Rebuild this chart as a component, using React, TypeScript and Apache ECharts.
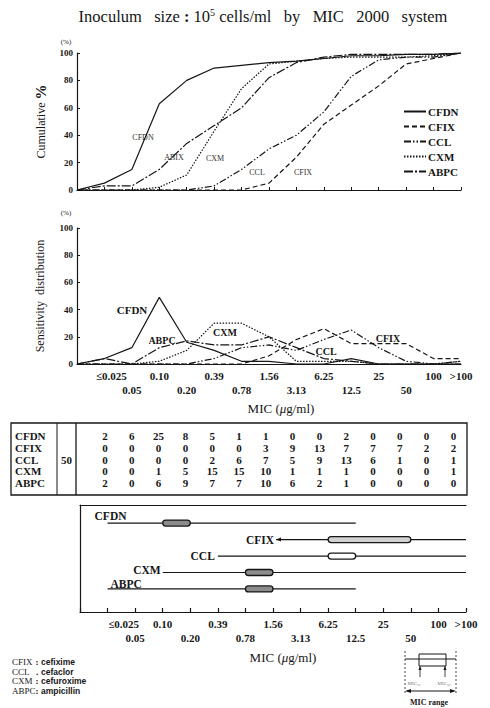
import React, { useEffect, useRef } from 'react';
import * as echarts from 'echarts';

// ---------- data ----------
const micLabels = ['≤0.025', '0.05', '0.10', '0.20', '0.39', '0.78', '1.56', '3.13', '6.25', '12.5', '25', '50', '100', '>100'];
const secondRowLabels = ['0.05', '0.20', '0.78', '3.13', '12.5', '50'];
const drugs = ['CFDN', 'CFIX', 'CCL', 'CXM', 'ABPC'];

// cumulative % (top panel)
const cumCFDN = [5, 15, 63, 80, 89, 91, 93, 94, 96, 98, 98, 99, 99, 100];
const cumCFIX = [0, 0, 0, 0, 0, 0, 5, 24, 48, 62, 76, 92, 96, 100];
const cumCCL = [0, 0, 0, 0, 3, 15, 30, 40, 57, 83, 95, 97, 97, 100];
const cumCXM = [0, 0, 2, 11, 43, 74, 92, 94, 96, 97, 97, 97, 98, 100];
const cumABPC = [3, 3, 15, 34, 47, 60, 82, 93, 97, 99, 99, 99, 99, 100];

// sensitivity distribution % (middle panel)
const distCFDN = [4, 12, 49, 16, 10, 2, 2, 0, 0, 4, 0, 0, 0, 0];
const distCFIX = [0, 0, 0, 0, 0, 0, 6, 18, 26, 15, 15, 15, 4, 4];
const distCCL = [0, 0, 0, 0, 4, 12, 14, 10, 18, 25, 12, 2, 0, 2];
const distCXM = [0, 0, 2, 10, 30, 30, 20, 2, 2, 2, 0, 0, 0, 2];
const distABPC = [4, 0, 12, 17, 14, 14, 20, 12, 4, 2, 0, 0, 0, 0];

// number of strains per MIC (table)
const countCFDN = [2, 6, 25, 8, 5, 1, 1, 0, 0, 2, 0, 0, 0, 0];
const countCFIX = [0, 0, 0, 0, 0, 0, 3, 9, 13, 7, 7, 7, 2, 2];
const countCCL = [0, 0, 0, 0, 2, 6, 7, 5, 9, 13, 6, 1, 0, 1];
const countCXM = [0, 0, 1, 5, 15, 15, 10, 1, 1, 1, 0, 0, 0, 1];
const countABPC = [2, 0, 6, 9, 7, 7, 10, 6, 2, 1, 0, 0, 0, 0];
const strainTotal = '50';

// MIC range (bottom panel)
const rangeMin = ['≤0.025', '1.56', '0.39', '0.10', '≤0.025'];
const rangeMax = ['12.5', '>100', '>100', '>100', '12.5'];
const boxLow = ['0.10', '6.25', '6.25', '0.78', '0.78'];
const boxHigh = ['0.20', '50', '12.5', '1.56', '1.56'];

// abbreviations
const abbrList = ['CFIX', 'CCL', 'CXM', 'ABPC'];
const abbrSep = [':', '.', ':', ':'];
const abbrNames = ['cefixime', 'cefaclor', 'cefuroxime', 'ampicillin'];

const cumData = [cumCFDN, cumCFIX, cumCCL, cumCXM, cumABPC];
const distData = [distCFDN, distCFIX, distCCL, distCXM, distABPC];
const countData = [countCFDN, countCFIX, countCCL, countCXM, countABPC];

// ---------- styles ----------
const SERIF = '"Liberation Serif", "DejaVu Serif", serif';
const SANS = '"Liberation Sans", "DejaVu Sans", sans-serif';
const INK = '#161616';
const dashTypes: any[] = ['solid', [5, 3], [7, 2, 1.5, 2, 1.5, 2], [1.5, 1.5], [9, 2, 2, 2]];
const boxFill = ['#8c8c8c', '#d2d2d2', '#ffffff', '#8c8c8c', '#8c8c8c'];
const labelAbove = [true, false, false, false, true];
const labelDx = [-13, 1, -3, -2, 3];
const labelDy = [-1, 0, 0, -2, 1];
const arrowLeft = [false, true, false, false, false];

const axisCats = ['', ...micLabels];

function buildOption(): any {
  const tickFmt = (firstStyle: string) => (v: string) => {
    if (!v) return '';
    if (v === micLabels[0]) return `{${firstStyle}|${v}}`;
    return secondRowLabels.includes(v) ? `\n{n|${v}}` : `{n|${v}}`;
  };
  const tickRich = {
    n: { fontFamily: SERIF, fontSize: 11, fontWeight: 'bold', color: INK, lineHeight: 14 },
    f1: { fontFamily: SERIF, fontSize: 11, fontWeight: 'bold', color: INK, lineHeight: 14, padding: [0, 0, 0, 14] },
    f2: { fontFamily: SERIF, fontSize: 11, fontWeight: 'bold', color: INK, lineHeight: 14, padding: [0, 0, 0, 32] },
  };
  const yLabel = { fontFamily: SERIF, fontSize: 9, fontWeight: 'bold', color: INK, margin: 4 };
  const axisLine = { show: true, onZero: false, lineStyle: { color: INK, width: 1.2 } };
  const micName = 'MIC ({i|μ}g/ml)';
  const micNameStyle = (padLeft: number) => ({
    fontFamily: SERIF, fontSize: 13, color: INK, padding: [0, 0, 0, padLeft],
    rich: { i: { fontFamily: SERIF, fontSize: 13, fontStyle: 'italic', color: INK } },
  });

  const lineSeries = (data: number[][], ax: number) =>
    drugs.map((d, k) => ({
      name: d,
      type: 'line',
      xAxisIndex: ax,
      yAxisIndex: ax,
      data: [0, ...data[k]],
      symbol: 'none',
      lineStyle: { color: INK, width: 1.2, type: dashTypes[k] },
      itemStyle: { color: INK },
    }));

  const rangeData = drugs.map((d, i) => [
    axisCats.indexOf(rangeMin[i]),
    axisCats.indexOf(rangeMax[i]),
    axisCats.indexOf(boxLow[i]),
    axisCats.indexOf(boxHigh[i]),
    i,
  ]);

  const graphics: any[] = [];
  // title
  graphics.push({
    type: 'text', x: 263, y: 16,
    style: {
      text: '{t|Inoculum   size }{b|:}{t| 10}{s|5}{t| cells/ml   by   MIC   2000   system}',
      align: 'center', verticalAlign: 'middle',
      rich: {
        t: { fontFamily: SERIF, fontSize: 16.5, fill: INK },
        b: { fontFamily: SERIF, fontSize: 16.5, fontWeight: 'bold', fill: INK },
        s: { fontFamily: SERIF, fontSize: 10, fill: INK, padding: [0, 0, 8, 0] },
      },
    },
  });
  // (%) marks
  graphics.push({ type: 'text', x: 66, y: 42, style: { text: '(%)', fontFamily: SERIF, fontSize: 7, fill: INK, align: 'center', verticalAlign: 'middle' } });
  graphics.push({ type: 'text', x: 66, y: 213, style: { text: '(%)', fontFamily: SERIF, fontSize: 7, fill: INK, align: 'center', verticalAlign: 'middle' } });

  // annotations top panel
  const topNotes: [string, number, number][] = [['CFDN', 143, 137], ['ABIX', 174, 157], ['CXM', 215, 158], ['CCL', 257, 172], ['CFIX', 303, 172]];
  topNotes.forEach(([t, x, y]) => graphics.push({ type: 'text', x, y, style: { text: t, fontFamily: SERIF, fontSize: 8, fill: '#333', align: 'center', verticalAlign: 'middle' } }));
  // annotations middle panel
  const midNotes: [string, number, number, number][] = [['CFDN', 132, 310, 11], ['ABPC', 162, 340, 10], ['CXM', 225, 332, 10], ['CCL', 326, 351, 10], ['CFIX', 388, 338, 10]];
  midNotes.forEach(([t, x, y, fs]) => graphics.push({ type: 'text', x, y, style: { text: t, fontFamily: SERIF, fontSize: fs, fontWeight: 'bold', fill: INK, align: 'center', verticalAlign: 'middle' } }));

  // table
  const tL = 11, tT = 423, tR = 467, tB = 495;
  graphics.push({ type: 'rect', shape: { x: tL, y: tT, width: tR - tL, height: tB - tT }, style: { fill: 'none', stroke: INK, lineWidth: 1.3 } });
  graphics.push({ type: 'line', shape: { x1: 57, y1: tT, x2: 57, y2: tB }, style: { stroke: INK, lineWidth: 1 } });
  graphics.push({ type: 'line', shape: { x1: 76, y1: tT, x2: 76, y2: tB }, style: { stroke: INK, lineWidth: 1.3 } });
  const rowY = (r: number) => 436 + r * 11.8;
  drugs.forEach((d, r) => {
    graphics.push({ type: 'text', x: 15, y: rowY(r), style: { text: d, fontFamily: SERIF, fontSize: 11, fontWeight: 'bold', fill: INK, align: 'left', verticalAlign: 'middle' } });
    countData[r].forEach((c, j) => {
      graphics.push({ type: 'text', x: 105 + j * 26.8, y: rowY(r), style: { text: String(c), fontFamily: SERIF, fontSize: 11, fontWeight: 'bold', fill: INK, align: 'center', verticalAlign: 'middle' } });
    });
  });
  graphics.push({ type: 'text', x: 66.5, y: rowY(2), style: { text: strainTotal, fontFamily: SERIF, fontSize: 11, fontWeight: 'bold', fill: INK, align: 'center', verticalAlign: 'middle' } });

  // abbreviations legend
  abbrList.forEach((a, i) => {
    const y = 662 + i * 9.6;
    graphics.push({ type: 'text', x: 12, y, style: { text: a, fontFamily: SERIF, fontSize: 9, fill: INK, align: 'left', verticalAlign: 'middle' } });
    graphics.push({ type: 'text', x: 37, y, style: { text: abbrSep[i], fontFamily: SERIF, fontSize: 9, fontWeight: 'bold', fill: INK, align: 'center', verticalAlign: 'middle' } });
    graphics.push({ type: 'text', x: 41, y, style: { text: abbrNames[i], fontFamily: SANS, fontSize: 8.5, fontWeight: 'bold', fill: INK, align: 'left', verticalAlign: 'middle' } });
  });

  // MIC range key
  const kL = 405, kR = 456;
  graphics.push({ type: 'line', shape: { x1: kL, y1: 651, x2: kL, y2: 695 }, style: { stroke: INK, lineWidth: 0.8, lineDash: [2, 2] } });
  graphics.push({ type: 'line', shape: { x1: kR, y1: 651, x2: kR, y2: 695 }, style: { stroke: INK, lineWidth: 0.8, lineDash: [2, 2] } });
  graphics.push({ type: 'line', shape: { x1: kL, y1: 659, x2: kR, y2: 659 }, style: { stroke: INK, lineWidth: 1 } });
  graphics.push({ type: 'rect', shape: { x: 419, y: 654, width: 27, height: 12 }, style: { fill: 'none', stroke: INK, lineWidth: 1 } });
  [420, 445].forEach((x) => {
    graphics.push({ type: 'line', shape: { x1: x, y1: 666, x2: x, y2: 677 }, style: { stroke: INK, lineWidth: 0.8 } });
    graphics.push({ type: 'polygon', shape: { points: [[x, 666], [x - 1.5, 670], [x + 1.5, 670]] }, style: { fill: INK } });
  });
  graphics.push({ type: 'text', x: 414, y: 683, style: { text: 'MIC₅₀', fontFamily: SERIF, fontSize: 5, fill: '#777', align: 'center', verticalAlign: 'middle' } });
  graphics.push({ type: 'text', x: 444, y: 683, style: { text: 'MIC₉₀', fontFamily: SERIF, fontSize: 5, fill: '#777', align: 'center', verticalAlign: 'middle' } });
  graphics.push({ type: 'line', shape: { x1: kL + 2, y1: 691, x2: kR - 2, y2: 691 }, style: { stroke: INK, lineWidth: 1.2 } });
  graphics.push({ type: 'polygon', shape: { points: [[kL, 691], [kL + 6, 689], [kL + 6, 693]] }, style: { fill: INK } });
  graphics.push({ type: 'polygon', shape: { points: [[kR, 691], [kR - 6, 689], [kR - 6, 693]] }, style: { fill: INK } });
  graphics.push({ type: 'text', x: 429, y: 702, style: { text: 'MIC range', fontFamily: SERIF, fontSize: 8, fontWeight: 'bold', fill: INK, align: 'center', verticalAlign: 'middle' } });

  return {
    animation: false,
    backgroundColor: '#ffffff',
    legend: {
      data: drugs,
      orient: 'vertical',
      left: 398,
      top: 101,
      itemWidth: 22,
      itemHeight: 10,
      itemGap: 4,
      selectedMode: false,
      itemStyle: { opacity: 0, borderWidth: 0 },
      textStyle: { fontFamily: SERIF, fontSize: 11, fontWeight: 'bold', color: INK, padding: [0, 0, 0, -3] },
    },
    grid: [
      { left: 77, top: 53, width: 384, height: 137 },
      { left: 77, top: 228, width: 384, height: 136 },
      { left: 80, top: 505, width: 386, height: 107 },
    ],
    xAxis: [
      {
        gridIndex: 0, type: 'category', data: axisCats, boundaryGap: false,
        axisLine, axisTick: { show: true, inside: true, length: 3, interval: 0, lineStyle: { color: INK } },
        axisLabel: { show: false }, splitLine: { show: false },
      },
      {
        gridIndex: 1, type: 'category', data: axisCats, boundaryGap: false,
        axisLine, axisTick: { show: false },
        axisLabel: { interval: 0, hideOverlap: false, margin: 5, lineHeight: 14, fontSize: 11, formatter: tickFmt('f1'), rich: tickRich },
        name: micName, nameLocation: 'middle', nameGap: 38, nameTextStyle: micNameStyle(24),
        splitLine: { show: false },
      },
      {
        gridIndex: 2, type: 'category', data: axisCats, boundaryGap: false, position: 'bottom',
        axisLine, axisTick: { show: true, inside: true, length: 4, interval: 0, lineStyle: { color: INK, width: 1.2 } },
        axisLabel: { interval: 0, hideOverlap: false, margin: 5, lineHeight: 14, fontSize: 11, formatter: tickFmt('f2'), rich: tickRich },
        name: micName, nameLocation: 'middle', nameGap: 39, nameTextStyle: micNameStyle(20),
        splitLine: { show: false },
      },
      {
        gridIndex: 2, type: 'category', data: axisCats, boundaryGap: false, position: 'top',
        axisLine, axisTick: { show: false }, axisLabel: { show: false }, splitLine: { show: false },
      },
    ],
    yAxis: [
      {
        gridIndex: 0, type: 'value', min: 0, max: 100, interval: 20,
        axisLine, axisTick: { show: true, inside: true, length: 3, lineStyle: { color: INK } },
        axisLabel: yLabel, splitLine: { show: false },
        name: '{a|Cumulative }{b|%}', nameLocation: 'middle', nameGap: 28, nameRotate: 90,
        nameTextStyle: { rich: { a: { fontFamily: SERIF, fontSize: 12, color: INK }, b: { fontFamily: SERIF, fontSize: 15, fontWeight: 'bold', color: INK } } },
      },
      {
        gridIndex: 1, type: 'value', min: 0, max: 100, interval: 20,
        axisLine, axisTick: { show: true, inside: true, length: 3, lineStyle: { color: INK } },
        axisLabel: yLabel, splitLine: { show: false },
        name: 'Sensitivity  distribution', nameLocation: 'middle', nameGap: 31, nameRotate: 90,
        nameTextStyle: { fontFamily: SERIF, fontSize: 12, color: INK },
      },
      {
        gridIndex: 2, type: 'value', min: -1.1, max: 5.4, inverse: true,
        axisLine, axisTick: { show: false }, axisLabel: { show: false }, splitLine: { show: false },
      },
    ],
    series: [
      ...lineSeries(cumData, 0),
      ...lineSeries(distData, 1),
      {
        type: 'custom',
        name: 'MIC range',
        xAxisIndex: 2,
        yAxisIndex: 2,
        clip: false,
        data: rangeData,
        encode: { x: [0, 1, 2, 3], y: 4 },
        renderItem: (params: any, api: any) => {
          const i = params.dataIndex;
          const row = api.value(4);
          const p0 = api.coord([api.value(0), row]);
          const x0 = p0[0];
          const y = p0[1];
          const x1 = api.coord([api.value(1), row])[0];
          const bl = api.coord([api.value(2), row])[0];
          const bh = api.coord([api.value(3), row])[0];
          const children: any[] = [];
          const lineStart = arrowLeft[i] ? x0 + 3 : x0;
          children.push({ type: 'line', shape: { x1: lineStart, y1: y, x2: x1, y2: y }, style: { stroke: INK, lineWidth: 1.2 } });
          if (arrowLeft[i]) {
            children.push({ type: 'polygon', shape: { points: [[x0 + 3, y], [x0 + 8, y - 2], [x0 + 8, y + 2]] }, style: { fill: INK } });
          }
          children.push({ type: 'rect', shape: { x: bl, y: y - 3, width: bh - bl, height: 6, r: 3 }, style: { fill: boxFill[i], stroke: INK, lineWidth: 1.3 } });
          const ty = y + labelDy[i];
          if (labelAbove[i]) {
            children.push({ type: 'text', style: { text: drugs[i], x: x0 + labelDx[i], y: ty, align: 'left', verticalAlign: 'bottom', fontFamily: SERIF, fontSize: 11.5, fontWeight: 'bold', fill: INK } });
          } else {
            children.push({ type: 'text', style: { text: drugs[i], x: x0 + labelDx[i], y: ty, align: 'right', verticalAlign: 'middle', fontFamily: SERIF, fontSize: 11.5, fontWeight: 'bold', fill: INK } });
          }
          return { type: 'group', children };
        },
      },
    ],
    graphic: graphics,
  };
}

export default function App() {
  const ref = useRef<HTMLDivElement>(null);
  useEffect(() => {
    document.body.style.margin = '0';
    const chart = echarts.init(ref.current as HTMLDivElement, null, { renderer: 'svg' });
    chart.setOption(buildOption());
    return () => chart.dispose();
  }, []);
  return <div ref={ref} style={{ width: 490, height: 708 }} />;
}
